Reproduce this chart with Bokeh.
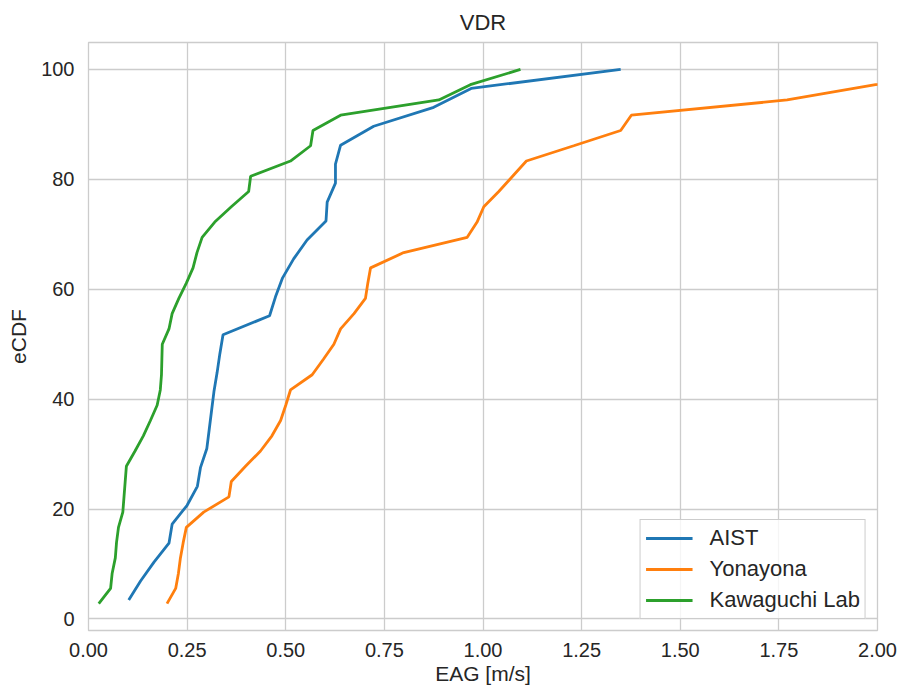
from bokeh.plotting import figure
from bokeh.models import Range1d, FixedTicker, NumeralTickFormatter, Legend, LegendItem
from bokeh.embed import file_html
from bokeh.resources import INLINE

# Empirical CDFs of EAG per dataset (x: EAG [m/s], y: cumulative percent)
aist_x = [0.102, 0.132, 0.166, 0.204, 0.212, 0.250, 0.276, 0.284, 0.300, 0.306,
          0.312, 0.318, 0.326, 0.333, 0.341, 0.459, 0.474, 0.492, 0.520, 0.554,
          0.602, 0.605, 0.626, 0.626, 0.639, 0.723, 0.875, 0.970, 1.349]
aist_y = [3.45, 6.90, 10.34, 13.79, 17.24, 20.69, 24.14, 27.59, 31.03, 34.48,
          37.93, 41.38, 44.83, 48.28, 51.72, 55.17, 58.62, 62.07, 65.52, 68.97,
          72.41, 75.86, 79.31, 82.76, 86.21, 89.66, 93.10, 96.55, 100.0]

yona_x = [0.199, 0.221, 0.228, 0.233, 0.240, 0.248, 0.292, 0.356, 0.362, 0.398,
          0.436, 0.465, 0.487, 0.500, 0.512, 0.567, 0.595, 0.622, 0.639, 0.673,
          0.702, 0.708, 0.715, 0.799, 0.960, 0.985, 1.002, 1.040, 1.075, 1.110,
          1.230, 1.349, 1.376, 1.771, 1.995, 2.350]
yona_y = [2.78, 5.56, 8.33, 11.11, 13.89, 16.67, 19.44, 22.22, 25.00, 27.78,
          30.56, 33.33, 36.11, 38.89, 41.67, 44.44, 47.22, 50.00, 52.78, 55.56,
          58.33, 61.11, 63.89, 66.67, 69.44, 72.22, 75.00, 77.78, 80.56, 83.33,
          86.11, 88.89, 91.67, 94.44, 97.22, 100.0]

kawa_x = [0.026, 0.056, 0.060, 0.068, 0.071, 0.076, 0.087, 0.090, 0.093, 0.096,
          0.118, 0.139, 0.157, 0.174, 0.182, 0.185, 0.186, 0.187, 0.204, 0.212,
          0.229, 0.248, 0.265, 0.275, 0.288, 0.320, 0.362, 0.406, 0.411, 0.512,
          0.563, 0.569, 0.639, 0.888, 0.968, 1.095]
kawa_y = [2.78, 5.56, 8.33, 11.11, 13.89, 16.67, 19.44, 22.22, 25.00, 27.78,
          30.56, 33.33, 36.11, 38.89, 41.67, 44.44, 47.22, 50.00, 52.78, 55.56,
          58.33, 61.11, 63.89, 66.67, 69.44, 72.22, 75.00, 77.78, 80.56, 83.33,
          86.11, 88.89, 91.67, 94.44, 97.22, 100.0]

series_names = ["AIST", "Yonayona", "Kawaguchi Lab"]
series_colors = ["#1f77b4", "#ff7f0e", "#2ca02c"]
x_ticks = [0.0, 0.25, 0.5, 0.75, 1.0, 1.25, 1.5, 1.75, 2.0]
y_ticks = [0, 20, 40, 60, 80, 100]

FONT = "Liberation Sans"
TEXT = "#262626"
GRID = "#cccccc"

p = figure(width=903, height=688, output_backend="svg", toolbar_location=None,
           x_range=Range1d(0, 2.0), y_range=Range1d(-2.1, 104.9),
           min_border_left=88, min_border_right=26, min_border_top=42,
           min_border_bottom=58)

p.title.text = "VDR"
p.title.align = "center"
p.title.text_font = FONT
p.title.text_font_size = "22px"
p.title.text_font_style = "normal"
p.title.text_color = TEXT
p.title.standoff = 15

p.background_fill_color = "white"
p.border_fill_color = "white"
p.outline_line_color = GRID
p.outline_line_width = 1.3

p.xgrid.grid_line_color = GRID
p.ygrid.grid_line_color = GRID
p.xgrid.grid_line_width = 1.3
p.ygrid.grid_line_width = 1.3

p.xaxis.ticker = FixedTicker(ticks=x_ticks)
p.yaxis.ticker = FixedTicker(ticks=y_ticks)
p.xaxis.formatter = NumeralTickFormatter(format="0.00")

for ax in (p.xaxis, p.yaxis):
    ax.axis_line_color = None
    ax.major_tick_line_color = None
    ax.minor_tick_line_color = None
    ax.major_tick_out = 0
    ax.major_tick_in = 0
    ax.major_label_text_font = FONT
    ax.major_label_text_font_size = "20px"
    ax.major_label_text_color = TEXT
    ax.axis_label_text_font = FONT
    ax.axis_label_text_font_size = "21px"
    ax.axis_label_text_font_style = "normal"
    ax.axis_label_text_color = TEXT

p.xaxis.axis_label = "EAG [m/s]"
p.yaxis.axis_label = "eCDF"
p.xaxis.major_label_standoff = 12
p.yaxis.major_label_standoff = 14
p.xaxis.axis_label_standoff = 2
p.yaxis.axis_label_standoff = 8

renderers = []
for xs, ys, color in ((aist_x, aist_y, series_colors[0]),
                      (yona_x, yona_y, series_colors[1]),
                      (kawa_x, kawa_y, series_colors[2])):
    r = p.line(xs, ys, line_color=color, line_width=2.8)
    renderers.append(r)

legend = Legend(items=[LegendItem(label=n, renderers=[r])
                       for n, r in zip(series_names, renderers)],
                location="bottom_right")
legend.label_text_font = FONT
legend.label_text_font_size = "22px"
legend.label_text_color = TEXT
legend.glyph_width = 47
legend.glyph_height = 22
legend.label_height = 22
legend.label_standoff = 17
legend.spacing = 5
legend.padding = 5
legend.margin = 11
legend.border_line_color = GRID
legend.border_line_alpha = 1.0
legend.background_fill_alpha = 0.8
p.add_layout(legend)

open("out.html", "w").write(file_html(p, INLINE))
